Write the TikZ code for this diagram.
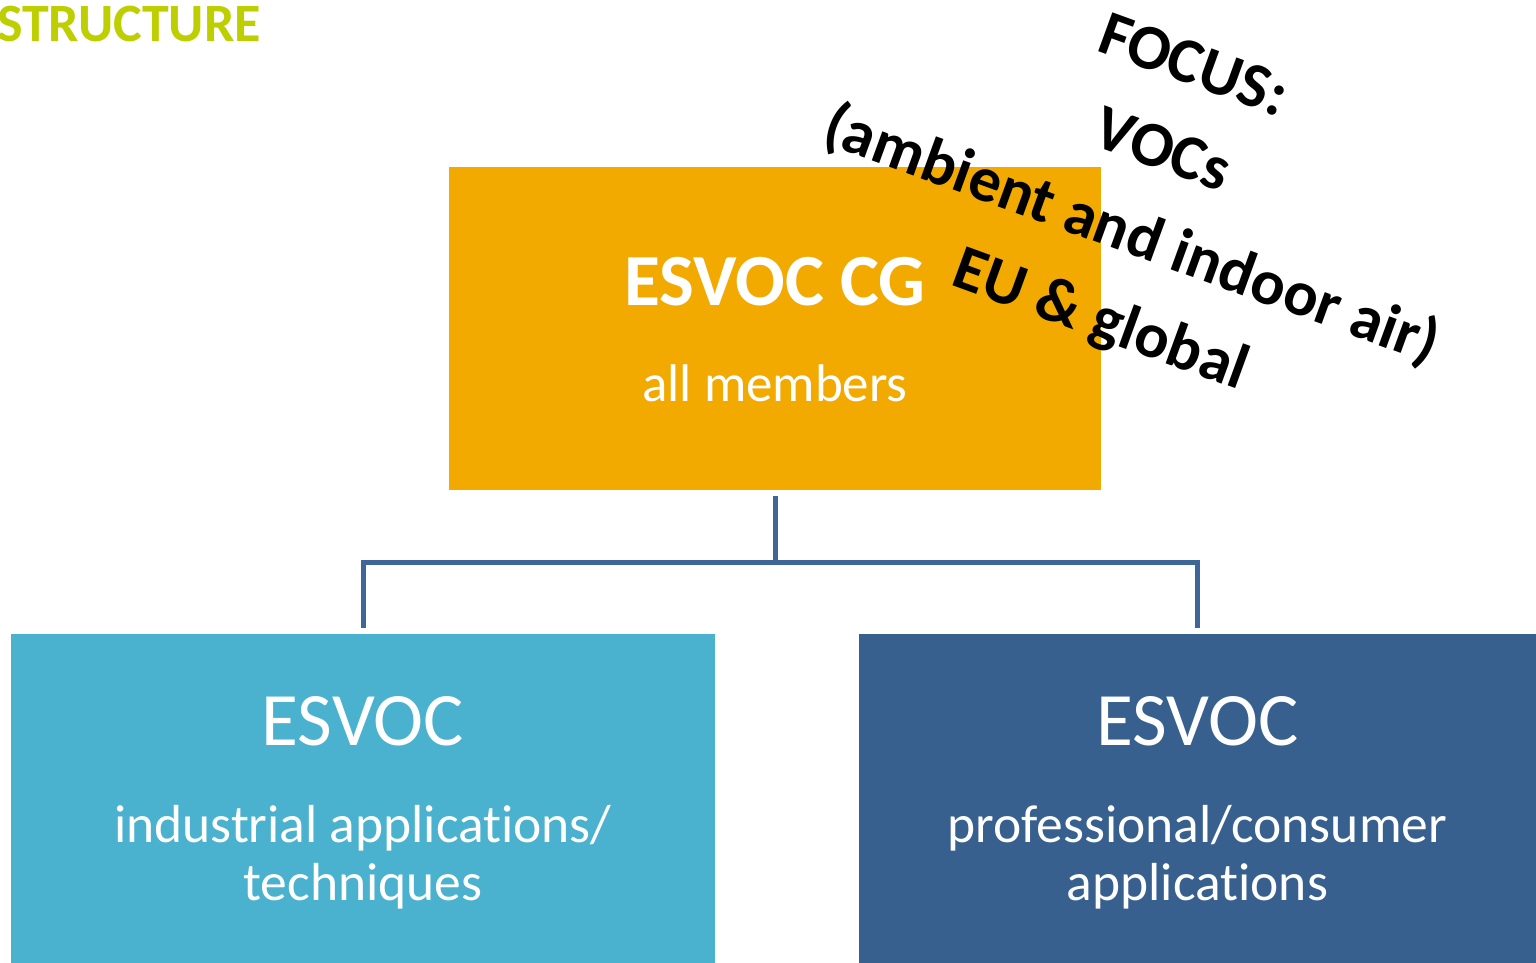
\documentclass[tikz,border=0pt]{standalone}
\usepackage{fontspec}
\setmainfont{Carlito}[Ligatures=NoCommon]
\definecolor{orangeC}{HTML}{F2A900}
\definecolor{lightC}{HTML}{4AB2CE}
\definecolor{darkC}{HTML}{37608F}
\definecolor{connC}{HTML}{3E6698}
\definecolor{greenC}{HTML}{BDCF00}
\begin{document}
\begin{tikzpicture}[x=1pt,y=-1pt,
  box/.style={inner sep=0pt, outer sep=0pt, anchor=north west},
  lbl/.style={inner sep=0pt, outer sep=0pt, text=white, anchor=base, align=center},
  conn/.style={draw=connC, line width=5pt}]
\useasboundingbox (0,0) rectangle (1536,963);
\fill[white] (0,0) rectangle (1536,963);
\node[box, fill=orangeC, minimum width=652pt, minimum height=323pt] (top) at (449,167) {};
\node[box, fill=lightC, minimum width=704pt, minimum height=329pt] (lb) at (11,634) {};
\node[box, fill=darkC, minimum width=677pt, minimum height=329pt] (rb) at (859,634) {};
\node[inner sep=0pt, anchor=base west, text=greenC, font=\fontsize{54}{60}\selectfont\bfseries] (title) at (-3,42) {STRUCTURE};
\node[lbl, font=\fontsize{73.5}{80}\selectfont\bfseries] (t1) at (775,305) {ESVOC CG};
\node[lbl, font=\fontsize{53}{60}\selectfont] (t2) at (775,401.7) {all members};
\node[lbl, font=\fontsize{75.5}{80}\selectfont] (l1) at (363,745.7) {ESVOC};
\node[lbl, font=\fontsize{53.5}{58.4}\selectfont] (l2) at (363,900.7) {industrial applications/\\techniques};
\node[lbl, font=\fontsize{75.5}{80}\selectfont] (r1) at (1197.5,745.7) {ESVOC};
\node[lbl, font=\fontsize{53.5}{58.4}\selectfont] (r2) at (1197.5,900.7) {professional/consumer\\applications};
\node[inner sep=0pt, align=center, rotate=-20, font=\fontsize{63.8}{90}\selectfont\bfseries] (focus) at (1146,196) {FOCUS:\\VOCs\\(ambient and indoor air)\\EU \& global};
\coordinate (hub) at (775,562);
\draw[conn] ([yshift=-6pt]top.south) -- (hub);
\draw[conn] ([yshift=6pt]lb.north) |- (hub) -| ([yshift=6pt]rb.north);
\end{tikzpicture}
\end{document}
